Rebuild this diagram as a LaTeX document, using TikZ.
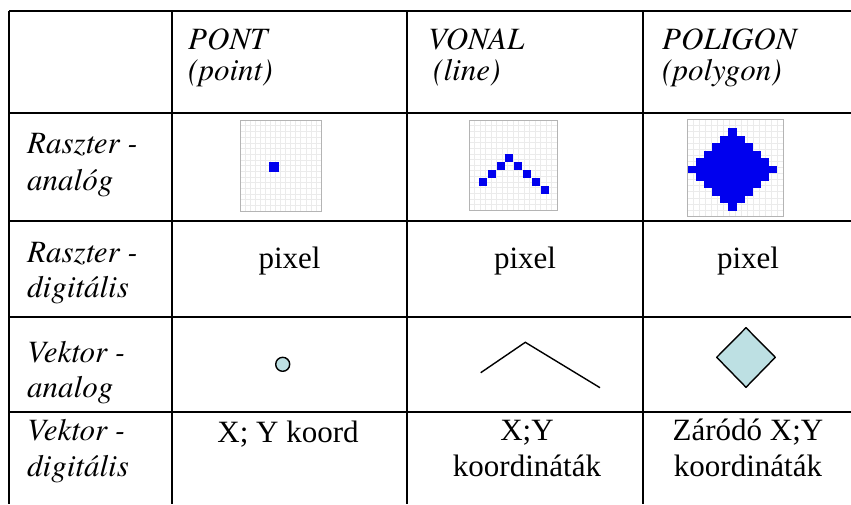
\documentclass[tikz,border=0pt]{standalone}
\usepackage{fontspec}
\setmainfont{Liberation Serif}
\newfontfamily\labelfont{TeX Gyre Termes}
\definecolor{cellblue}{HTML}{0000EE}
\definecolor{shapefill}{HTML}{BDE0E3}
\definecolor{rastbox}{HTML}{B4B4B4}
\definecolor{rastgrid}{HTML}{EBEBEB}

\begin{document}
\begin{tikzpicture}[x=1pt,y=-1pt,
        every node/.style={inner sep=0pt,font=\fontsize{31}{35}\selectfont},
        head/.style={anchor=base west,font=\fontsize{31}{35}\selectfont\labelfont\itshape},
        val/.style={anchor=base},
        rule/.style={line width=1.7pt},
        rastcell/.style={draw=rastbox,fill=white,line width=1pt},
        rastgridline/.style={draw=rastgrid,line width=0.5pt},
        vecshape/.style={draw=black,fill=shapefill,line width=1.4pt,line join=round}]
  \useasboundingbox (0,0) rectangle (851,504);
  \draw[line width=1.2pt] (9,11) -- (851,11);
  \foreach \y in {113,221,317,412}
    \draw[rule] (9,\y) -- (851,\y);
  \foreach \x in {9,172,407,643}
    \draw[rule] (\x,11) -- (\x,504);

  \node[head] (pont) at (188,49) {PONT};
  \node[head] (pont-en) at (188,80) {(point)};
  \node[head] (vonal) at (428,49) {VONAL};
  \node[head] (vonal-en) at (433,80) {(line)};
  \node[head] (poligon) at (662,49) {POLIGON};
  \node[head] (poligon-en) at (662,80) {(polygon)};

  \node[head] (ra1) at (27,153) {Raszter -};
  \node[head] (ra2) at (27,190) {analóg};
  \node[head] (rd1) at (27,262) {Raszter -};
  \node[head] (rd2) at (27,297) {digitális};
  \node[head] (va1) at (27,362) {Vektor -};
  \node[head] (va2) at (27,397) {analog};
  \node[head] (vd1) at (27,440) {Vektor -};
  \node[head] (vd2) at (27,476) {digitális};

  \node[val] (pixel-pont) at (289.5,268) {pixel};
  \node[val] (pixel-vonal) at (525,268) {pixel};
  \node[val] (pixel-poligon) at (748,268) {pixel};
  \node[val] (xy-pont) at (288,442) {X; Y koord};
  \node[val] (xy-vonal1) at (527,440) {X;Y};
  \node[val] (xy-vonal2) at (527,476) {koordináták};
  \node[val] (xy-poligon1) at (748,440) {Záródó X;Y};
  \node[val] (xy-poligon2) at (748,476) {koordináták};

  \draw[rastcell] (240,120) rectangle (321,211);
  \foreach \i in {1,...,15} {
    \draw[rastgridline] (240+\i*5.06,120) -- (240+\i*5.06,211);
    \draw[rastgridline] (240,120+\i*5.69) -- (321,120+\i*5.69);
  }
  \draw[rastbox,line width=1pt] (240,120) rectangle (321,211);
  \fill[cellblue] (269,162) rectangle (278.5,171.5);

  \draw[rastcell] (469,120) rectangle (557,210);
  \foreach \i in {1,...,15} {
    \draw[rastgridline] (469+\i*5.5,120) -- (469+\i*5.5,210);
    \draw[rastgridline] (469,120+\i*5.63) -- (557,120+\i*5.63);
  }
  \draw[rastbox,line width=1pt] (469,120) rectangle (557,210);
  \foreach \cx/\cy in {483/182,492/174,501/166,509/158,518/166,527/174,536/182,545/190}
    \fill[cellblue] (\cx-4,\cy-4) rectangle ++(8,8);

  \draw[rastcell] (687,119) rectangle (783,216);
  \foreach \i in {1,...,15} {
    \draw[rastgridline] (687+\i*6,119) -- (687+\i*6,216);
    \draw[rastgridline] (687,119+\i*6.06) -- (783,119+\i*6.06);
  }
  \draw[rastbox,line width=1pt] (687,119) rectangle (783,216);
  \foreach \k [evaluate=\k as \hw using {5.5-abs(\k-5)}] in {0,...,10}
    \fill[cellblue] (732.5-\hw*8.1,128+\k*7.5) rectangle ++(2*\hw*8.1,7.6);

  \draw[vecshape] (282.7,364.3) circle (7);
  \coordinate (ln-a) at (480.7,372.7);
  \coordinate (ln-b) at (525.3,342.3);
  \coordinate (ln-c) at (600,387.7);
  \draw[line width=1.4pt] (ln-a) -- (ln-b) -- (ln-c);
  \draw[vecshape] (746,327.7) -- (775.3,357.3) -- (746,387.3) -- (716.7,357.3) -- cycle;
\end{tikzpicture}
\end{document}
